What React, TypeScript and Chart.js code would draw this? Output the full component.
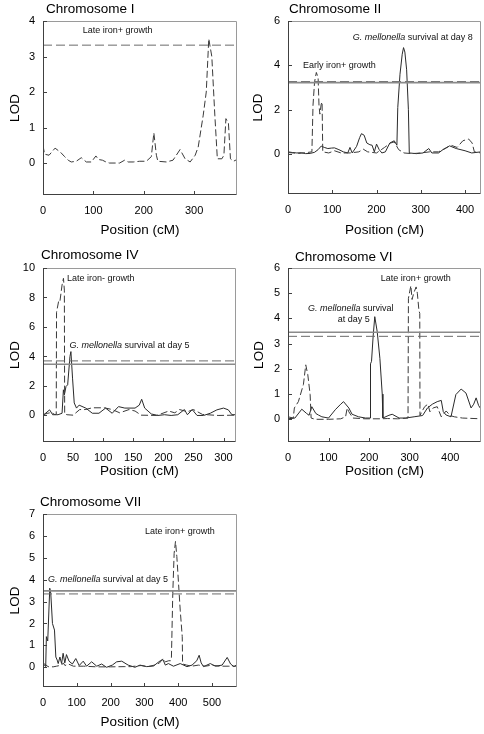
import React, { useEffect, useRef } from 'react';
import { Chart, registerables } from 'chart.js';

Chart.register(...registerables);

type Pt = [number, number];

const FONT = "'Liberation Sans', Arial, sans-serif";

// ---------- Chromosome I ----------
const chr1XTicks = [0, 100, 200, 300];
const chr1YTicks = [0, 1, 2, 3, 4];
const chr1LateIronPlus: Pt[] = [
  [0, 0.5], [3, 0.25], [12, 0.22], [24, 0.42], [35, 0.3], [43, 0.18], [50, 0.08], [56, 0.03], [66, 0.05],
  [76, 0.15], [86, 0.03], [96, 0.03], [105, 0.2], [110, 0.1], [118, 0.08], [125, 0.03], [132, 0], [152, 0],
  [162, 0.08], [169, 0.03], [179, 0.03], [192, 0.05], [205, 0.05], [215, 0.18], [220, 0.85], [225, 0.22],
  [228, 0.05], [245, 0.03], [258, 0.08], [272, 0.38], [282, 0.12], [292, 0.03], [302, 0.22], [308, 0.45],
  [318, 1.35], [324, 2.0], [329, 3.5], [335, 3.0], [341, 1.35], [346, 0.12], [355, 0.12], [359, 0.22],
  [363, 1.25], [368, 1.12], [372, 0.12], [378, 0.05], [385, 0.1],
];

// ---------- Chromosome II ----------
const chr2XTicks = [0, 100, 200, 300, 400];
const chr2YTicks = [0, 2, 4, 6];
const chr2SurvivalDay8: Pt[] = [
  [0, 0.1], [10, 0.07], [20, 0.05], [30, 0.06], [40, 0.02], [50, 0.03], [60, 0.08], [68, 0.2], [75, 0.36],
  [82, 0.3], [90, 0.25], [98, 0.27], [105, 0.28], [115, 0.2], [125, 0.1], [135, 0.05], [140, 0.3], [145, 0.05],
  [155, 0.35], [162, 0.75], [166, 0.92], [172, 0.85], [178, 0.5], [185, 0.42], [190, 0.4], [195, 0.1],
  [200, 0.45], [206, 0.2], [212, 0.05], [220, 0.1], [230, 0.5], [240, 0.6], [246, 0.4], [248, 2.1],
  [253, 3.6], [258, 4.5], [261, 4.8], [264, 4.6], [268, 3.8], [272, 2.0], [274, 0.05], [290, 0.02],
  [305, 0.05], [318, 0.25], [325, 0.05], [340, 0.05], [350, 0.2], [365, 0.37], [380, 0.25], [400, 0.15],
  [415, 0.05], [436, 0.1],
];
const chr2EarlyIronPlus: Pt[] = [
  [0, 0.07], [12, 0.05], [24, 0.03], [39, 0.06], [54, 0.1], [56.5, 2.2], [60, 3.25], [64, 3.68], [68, 3.45],
  [70, 2.2], [72, 1.8], [75, 2.25], [77, 2.35], [78.5, 0.1], [92, 0.05], [105, 0.15], [120, 0.05], [140, 0.05],
  [160, 0.1], [170, 0.22], [180, 0.1], [200, 0.05], [218, 0.3], [232, 0.5], [240, 0.55], [250, 0.2],
  [262, 0.05], [280, 0.02], [300, 0.05], [320, 0.1], [340, 0.1], [355, 0.25], [368, 0.4], [382, 0.3],
  [395, 0.6], [408, 0.68], [416, 0.5], [421, 0.1], [436, 0.05],
];

// ---------- Chromosome IV ----------
const chr4XTicks = [0, 50, 100, 150, 200, 250, 300];
const chr4YTicks = [0, 2, 4, 6, 8, 10];
const chr4SurvivalDay5: Pt[] = [
  [0, 0], [11, 0.38], [16, 0.05], [25, 0.05], [31.7, 0.15], [33.9, 1.74], [35.5, 1.4], [38.2, 1.96],
  [41, 2.08], [44.8, 4.0], [46.4, 4.33], [49.1, 2.53], [51.9, 0.85], [55.7, 0.5], [60, 0.7], [71, 0.5],
  [82, 0.15], [93, 0.15], [104, 0.5], [115, 0.15], [125.5, 0.6], [136, 0.5], [153, 0.5], [160, 0.7],
  [164, 1.1], [169, 0.5], [180, 0.1], [191, 0], [202, 0.05], [213, 0], [224, 0.05], [235, 0.4], [240, 0.05],
  [248, 0.4], [256, 0], [267, 0], [278, 0.15], [289, 0.38], [300, 0.5], [308, 0.38], [314, 0.05], [320, 0.05],
];
const chr4LateIronMinus: Pt[] = [
  [0, 0.05], [8, 0.15], [14, 0.2], [20, 0.05], [22, 0.1], [22.5, 7.0], [26, 7.75], [28, 7.7], [31.7, 8.85],
  [34, 9.3], [35.5, 8.5], [36, 0.1], [40, 0.05], [50, 0.02], [61, 0.4], [70, 0.4], [82, 0.52], [102, 0.52],
  [115, 0.4], [127.5, 0.18], [143, 0.4], [153, 0.3], [163, 0.02], [189, 0], [209, 0.3], [219, 0.18],
  [227, 0.4], [240, 0.25], [250, 0.4], [265, 0.07], [291, 0], [320, 0.02],
];

// ---------- Chromosome VI ----------
const chr6XTicks = [0, 100, 200, 300, 400];
const chr6YTicks = [0, 1, 2, 3, 4, 5, 6];
const chr6SurvivalDay5: Pt[] = [
  [0, 0.02], [17, 0.05], [34, 0.4], [46, 0.23], [52, 0.16], [58.7, 0.5], [68.7, 0.23], [75, 0.17],
  [83.5, 0.1], [100, 0.05], [116.6, 0.38], [130, 0.6], [137, 0.7], [150, 0.45], [158, 0.2], [174, 0.1],
  [191, 0.05], [203, 0.05], [203.5, 2.2], [206, 2.3], [210, 3.3], [214, 4.07], [220, 3.48], [226.6, 2.42],
  [232.4, 1.0], [234, 0.05], [249, 0.16], [257, 0.2], [274, 0.05], [290, 0.05], [311, 0.1], [332, 0.15],
  [344, 0.45], [356, 0.6], [368, 0.7], [378, 0.75], [383, 0.3], [390, 0.17], [402, 0.1], [414, 0.98],
  [427, 1.2], [439, 1.04], [451.5, 0.45], [458, 0.6], [464, 0.85], [470, 0.55], [476, 0.4],
];
const chr6LateIronPlus: Pt[] = [
  [0, 0.1], [13, 0.05], [15.7, 0.45], [25.6, 0.7], [38, 1.38], [43.8, 2.16], [48.8, 1.77], [54.6, 0.98],
  [57, 0.05], [67, 0], [100, 0], [130, 0.02], [142, 0.1], [146, 0.45], [150, 0.3], [160, 0.05], [190, 0.02],
  [230, 0.02], [245, 0.03], [270, 0.02], [296, 0.05], [297, 4.8], [300, 5.05], [303, 5.3], [306, 4.75],
  [310, 5.0], [316, 5.25], [319, 5.0], [323, 4.3], [325, 4.2], [325.5, 0.15], [330, 0.3], [337, 0.5],
  [345, 0.6], [350, 0.3], [358, 0.45], [368, 0.5], [378, 0.1], [390, 0.33], [400, 0.15], [410, 0.1],
  [430, 0.05], [476, 0.02],
];

// ---------- Chromosome VII ----------
const chr7XTicks = [0, 100, 200, 300, 400, 500];
const chr7YTicks = [0, 1, 2, 3, 4, 5, 6, 7];
const chr7SurvivalDay5: Pt[] = [
  [0, 0.1], [5, 0.1], [8, 0.03], [10, 1.4], [14, 1.2], [20, 3.61], [23, 3.38], [28, 2.0], [34, 1.7],
  [38, 0.47], [42, 0.33], [45, 0.17], [50, 0.47], [55, 0.17], [59.5, 0.64], [64.5, 0.2], [69.4, 0.58],
  [77, 0.28], [87, 0.15], [97, 0.4], [107, 0.08], [119, 0.28], [129, 0.05], [144, 0.25], [159, 0.05],
  [173.5, 0.15], [188, 0], [205, 0.1], [218, 0.25], [233, 0.28], [252, 0.1], [272, 0], [287, 0.1],
  [307, 0.03], [327, 0.06], [347, 0.3], [355, 0.35], [362, 0.1], [371, 0.17], [386, 0.05], [406, 0.17],
  [426, 0.03], [441, 0.1], [455, 0.3], [462, 0.55], [468, 0.2], [475, 0.03], [495, 0.17], [510, 0.05],
  [530, 0.1], [545, 0.45], [555, 0.15], [565, 0.03], [572, 0.1],
];
const chr7LateIronPlus: Pt[] = [
  [0, 0.12], [5, 0.15], [15, 0.03], [30, 0.02], [40, 0.05], [55, 0.1], [60, 0.2], [65, 0.08], [75, 0.15],
  [90, 0.05], [120, 0.05], [160, 0.02], [200, 0.02], [240, 0.03], [260, 0.03], [290, 0.08], [310, 0.03],
  [330, 0.1], [345, 0.2], [355, 0.4], [362, 0.25], [372, 0.3], [378, 0.3], [380, 0.45], [384, 3.38],
  [388, 5.2], [392, 5.75], [396, 5.06], [401, 3.84], [406, 2.61], [412, 1.4], [413, 0.15], [425, 0.1],
  [440, 0.05], [460, 0.1], [480, 0.05], [500, 0.1], [520, 0.05], [550, 0.05], [572, 0.05],
];

type Part = { text: string; italic?: boolean };
interface Note { x: number; y: number; parts: Part[]; align: 'left' | 'center' }
interface Panel {
  title: string; titleX: number; titleY: number;
  box: [number, number, number, number];
  plot: [number, number, number, number];
  xMax: number; yMin: number; yMax: number;
  xTicks: number[]; yTicks: number[];
  solid?: Pt[]; dashed?: Pt[];
  solidThr?: number; dashedThr?: number;
  notes: Note[];
  lodPad: number; posPad: number;
}

const GM = (rest: string): Part[] => [{ text: 'G. mellonella', italic: true }, { text: rest }];

const panels: Panel[] = [
  {
    title: 'Chromosome I', titleX: 46, titleY: 9,
    box: [0, 0, 242, 240], plot: [43, 21, 237, 195],
    xMax: 385, yMin: -0.9, yMax: 4, xTicks: chr1XTicks, yTicks: chr1YTicks,
    dashed: chr1LateIronPlus, dashedThr: 3.32,
    notes: [{ x: 79, y: 3.72, parts: [{ text: 'Late iron+ growth' }], align: 'left' }],
    lodPad: 7.2, posPad: 1.9,
  },
  {
    title: 'Chromosome II', titleX: 289, titleY: 9,
    box: [242, 0, 242, 240], plot: [288, 21, 481, 194],
    xMax: 436, yMin: -1.8, yMax: 6, xTicks: chr2XTicks, yTicks: chr2YTicks,
    solid: chr2SurvivalDay8, dashed: chr2EarlyIronPlus, solidThr: 3.22, dashedThr: 3.27,
    notes: [
      { x: 146, y: 5.26, parts: GM(' survival at day 8'), align: 'left' },
      { x: 34, y: 4.0, parts: [{ text: 'Early iron+ growth' }], align: 'left' },
    ],
    lodPad: 7.9, posPad: 1.9,
  },
  {
    title: 'Chromosome IV', titleX: 41, titleY: 255,
    box: [0, 240, 242, 240], plot: [43, 268, 237, 442],
    xMax: 320, yMin: -1.8, yMax: 10, xTicks: chr4XTicks, yTicks: chr4YTicks,
    solid: chr4SurvivalDay5, dashed: chr4LateIronMinus, solidThr: 3.47, dashedThr: 3.7,
    notes: [
      { x: 40, y: 9.26, parts: [{ text: 'Late iron- growth' }], align: 'left' },
      { x: 44, y: 4.74, parts: GM(' survival at day 5'), align: 'left' },
    ],
    lodPad: 7.2, posPad: 0.9,
  },
  {
    title: 'Chromosome VI', titleX: 295, titleY: 257,
    box: [242, 240, 242, 240], plot: [288, 268, 481, 442],
    xMax: 476, yMin: -0.9, yMax: 6, xTicks: chr6XTicks, yTicks: chr6YTicks,
    solid: chr6SurvivalDay5, dashed: chr6LateIronPlus, solidThr: 3.45, dashedThr: 3.29,
    notes: [
      { x: 229, y: 5.6, parts: [{ text: 'Late iron+ growth' }], align: 'left' },
      { x: 155, y: 4.38, parts: GM(' survival'), align: 'center' },
      { x: 162, y: 3.95, parts: [{ text: 'at day 5' }], align: 'center' },
    ],
    lodPad: 9.2, posPad: 0.9,
  },
  {
    title: 'Chromosome VII', titleX: 40, titleY: 502,
    box: [0, 480, 242, 254], plot: [43, 514, 237, 687],
    xMax: 574, yMin: -0.9, yMax: 7, xTicks: chr7XTicks, yTicks: chr7YTicks,
    solid: chr7SurvivalDay5, dashed: chr7LateIronPlus, solidThr: 3.49, dashedThr: 3.35,
    notes: [
      { x: 302, y: 6.18, parts: [{ text: 'Late iron+ growth' }], align: 'left' },
      { x: 15, y: 4.02, parts: GM(' survival at day 5'), align: 'left' },
    ],
    lodPad: 7.2, posPad: 3.9,
  },
];

function PanelChart({ p }: { p: Panel }) {
  const ref = useRef<HTMLCanvasElement>(null);
  useEffect(() => {
    const [cx, cy, cw, ch] = p.box;
    const [l, t, r, b] = p.plot;
    const toXY = (pts: Pt[]) => pts.map(([x, y]) => ({ x, y }));
    const datasets: any[] = [];
    if (p.solidThr !== undefined) {
      datasets.push({
        data: toXY([[0, p.solidThr], [p.xMax, p.solidThr]]),
        borderColor: '#8a8a8a', borderWidth: 1.6, pointRadius: 0, fill: false,
      });
    }
    if (p.dashedThr !== undefined) {
      datasets.push({
        data: toXY([[0, p.dashedThr], [p.xMax, p.dashedThr]]),
        borderColor: '#6a6a6a', borderWidth: 1, borderDash: [9, 4], pointRadius: 0, fill: false,
      });
    }
    if (p.dashed) {
      datasets.push({
        data: toXY(p.dashed), borderColor: '#3a3a3a', borderWidth: 1, borderDash: [7, 3],
        pointRadius: 0, tension: 0, fill: false,
      });
    }
    if (p.solid) {
      datasets.push({
        data: toXY(p.solid), borderColor: '#2a2a2a', borderWidth: 1,
        pointRadius: 0, tension: 0, fill: false,
      });
    }

    const deco = {
      id: 'deco',
      afterDraw(chart: any) {
        const ctx = chart.ctx as CanvasRenderingContext2D;
        const a = chart.chartArea;
        const xs = chart.scales.x;
        const ys = chart.scales.y;
        ctx.save();
        // frame
        ctx.lineWidth = 1;
        ctx.strokeStyle = '#9a9a9a';
        ctx.beginPath();
        ctx.moveTo(Math.round(a.left) + 0.5, Math.round(a.top) + 0.5);
        ctx.lineTo(Math.round(a.right) - 0.5, Math.round(a.top) + 0.5);
        ctx.lineTo(Math.round(a.right) - 0.5, Math.round(a.bottom) - 0.5);
        ctx.stroke();
        ctx.strokeStyle = '#404040';
        ctx.beginPath();
        ctx.moveTo(Math.round(a.left) + 0.5, Math.round(a.top) + 0.5);
        ctx.lineTo(Math.round(a.left) + 0.5, Math.round(a.bottom) - 0.5);
        ctx.lineTo(Math.round(a.right) - 0.5, Math.round(a.bottom) - 0.5);
        ctx.stroke();
        // inward ticks
        ctx.beginPath();
        p.yTicks.forEach((v) => {
          const y = Math.round(ys.getPixelForValue(v)) + 0.5;
          ctx.moveTo(a.left, y);
          ctx.lineTo(a.left + 4, y);
        });
        p.xTicks.forEach((v) => {
          const x = Math.round(xs.getPixelForValue(v)) + 0.5;
          ctx.moveTo(x, a.bottom);
          ctx.lineTo(x, a.bottom - 4);
        });
        ctx.stroke();
        // title
        ctx.fillStyle = '#000';
        ctx.font = `13.5px ${FONT}`;
        ctx.textBaseline = 'middle';
        ctx.textAlign = 'left';
        ctx.fillText(p.title, p.titleX - cx, p.titleY - cy);
        // notes
        ctx.fillStyle = '#111';
        p.notes.forEach((n) => {
          const px = xs.getPixelForValue(n.x);
          const py = ys.getPixelForValue(n.y);
          const widths = n.parts.map((pt) => {
            ctx.font = `${pt.italic ? 'italic ' : ''}9px ${FONT}`;
            return ctx.measureText(pt.text).width;
          });
          const total = widths.reduce((s, w) => s + w, 0);
          let x = n.align === 'center' ? px - total / 2 : px;
          n.parts.forEach((pt, i) => {
            ctx.font = `${pt.italic ? 'italic ' : ''}9px ${FONT}`;
            ctx.fillText(pt.text, x, py);
            x += widths[i];
          });
        });
        ctx.restore();
      },
    };

    const chart = new Chart(ref.current as HTMLCanvasElement, {
      type: 'line',
      data: { datasets },
      options: {
        responsive: false,
        maintainAspectRatio: false,
        animation: false,
        events: [],
        layout: { padding: { top: t - cy, right: cx + cw - r, left: 0, bottom: 0 } },
        plugins: { legend: { display: false }, tooltip: { enabled: false }, title: { display: false } },
        scales: {
          x: {
            type: 'linear', min: 0, max: p.xMax,
            grid: { display: false, drawTicks: false },
            border: { display: false },
            afterBuildTicks: (s: any) => { s.ticks = p.xTicks.map((v) => ({ value: v })); },
            afterFit: (s: any) => { s.height = cy + ch - b; },
            ticks: { font: { family: FONT, size: 11 }, color: '#000', padding: 9, maxRotation: 0, autoSkip: false },
            title: {
              display: true, text: 'Position (cM)', color: '#000',
              font: { family: FONT, size: 13.5 }, padding: { top: 0, bottom: p.posPad },
            },
          },
          y: {
            type: 'linear', min: p.yMin, max: p.yMax,
            grid: { display: false, drawTicks: false },
            border: { display: false },
            afterBuildTicks: (s: any) => { s.ticks = p.yTicks.map((v) => ({ value: v })); },
            afterFit: (s: any) => { s.width = l - cx; },
            ticks: { font: { family: FONT, size: 11 }, color: '#000', padding: 8, autoSkip: false },
            title: {
              display: true, text: 'LOD', color: '#000',
              font: { family: FONT, size: 13.5 }, padding: { top: p.lodPad, bottom: 0 },
            },
          },
        },
      } as any,
      plugins: [deco],
    });
    return () => chart.destroy();
  }, []);
  const [cx, cy, cw, ch] = p.box;
  return (
    <canvas
      ref={ref}
      width={cw}
      height={ch}
      style={{ position: 'absolute', left: cx, top: cy, width: cw, height: ch }}
    />
  );
}

export default function App() {
  return (
    <div style={{ position: 'absolute', left: 0, top: 0, width: 484, height: 734, background: '#fff' }}>
      {panels.map((p) => (
        <PanelChart key={p.title} p={p} />
      ))}
    </div>
  );
}
